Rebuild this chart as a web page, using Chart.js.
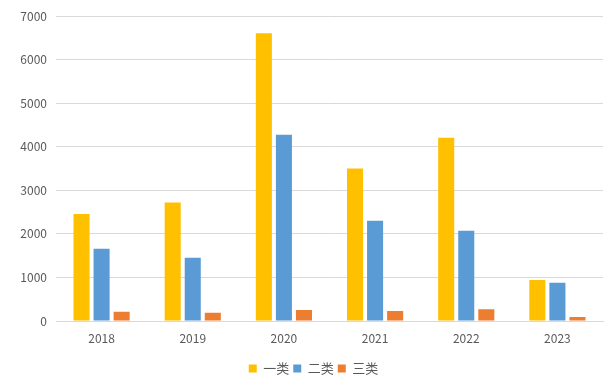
<!DOCTYPE html>
<html>
<head>
<meta charset="utf-8">
<script src="https://cdn.jsdelivr.net/npm/chart.js@4/dist/chart.umd.min.js"></script>
<style>
  html, body { margin: 0; padding: 0; background: #ffffff; }
  #wrap { width: 613px; height: 385px; position: relative; }
</style>
</head>
<body>
<div id="wrap"><canvas id="chartLeibie"></canvas></div>
<script>
// ===== data =====
const years = ['2018', '2019', '2020', '2021', '2022', '2023'];
const yiLei = [2460, 2720, 6610, 3500, 4210, 940];
const erLei = [1660, 1450, 4280, 2300, 2070, 880];
const sanLei = [210, 190, 250, 230, 270, 90];
const yTicks = [0, 1000, 2000, 3000, 4000, 5000, 6000, 7000];

const seriesNames = ['一类', '二类', '三类'];
const seriesColors = ['#FFC000', '#5B9BD5', '#ED7D31'];

Chart.defaults.font.family = "'Noto Sans CJK SC', 'Noto Sans', sans-serif";
Chart.defaults.color = '#595959';
Chart.defaults.animation = false;

// nudge legend a bit to the right (centred closer to the plot area)
const legendShift = {
    id: 'legendShift',
    afterLayout(chart) {
        if (!chart.legend) return;
        chart.legend.left += 12;
        chart.legend.right += 12;
    }
};

const ctx = document.getElementById('chartLeibie');

new Chart(ctx, {
    type: 'bar',
    data: {
        labels: years,
        datasets: [yiLei, erLei, sanLei].map((vals, i) => ({
            label: seriesNames[i],
            data: vals,
            backgroundColor: seriesColors[i],
            borderWidth: 0,
            barPercentage: 0.8,
            categoryPercentage: 0.66
        }))
    },
    options: {
        responsive: true,
        maintainAspectRatio: false,
        layout: { padding: { top: 10, right: 10, bottom: 0, left: 0 } },
        plugins: {
            legend: {
                position: 'bottom',
                labels: {
                    boxWidth: 8,
                    boxHeight: 8,
                    padding: 4,
                    font: { size: 13 },
                    color: '#595959'
                }
            },
            tooltip: { enabled: false }
        },
        scales: {
            x: {
                grid: { display: false, drawTicks: false },
                border: { color: '#d9d9d9', width: 1 },
                ticks: { font: { size: 12 }, color: '#595959', padding: 10 },
                afterFit: (axis) => { axis.height = 37; }
            },
            y: {
                min: 0,
                max: yTicks[yTicks.length - 1],
                afterBuildTicks: (axis) => { axis.ticks = yTicks.map(v => ({ value: v })); },
                grid: { color: '#d9d9d9', drawTicks: false },
                border: { display: false },
                ticks: { font: { size: 12 }, color: '#595959', padding: 9, callback: (v) => String(v) },
                afterFit: (axis) => { axis.width = 56; }
            }
        }
    },
    plugins: [legendShift]
});
</script>
</body>
</html>
